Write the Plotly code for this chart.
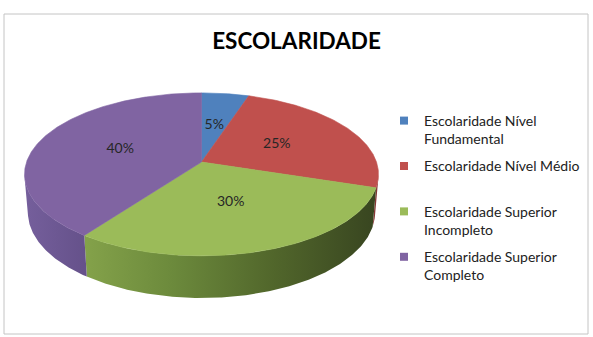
import numpy as np
import plotly.graph_objects as go

# ---- data ----
categories = [
    "Escolaridade Nível Fundamental",
    "Escolaridade Nível Médio",
    "Escolaridade Superior Incompleto",
    "Escolaridade Superior Completo",
]
legend_labels = [
    "Escolaridade Nível<br>Fundamental",
    "Escolaridade Nível Médio<br> ",
    "Escolaridade Superior<br>Incompleto",
    "Escolaridade Superior<br>Completo",
]
values = [5, 25, 30, 40]
pct_labels = ["5%", "25%", "30%", "40%"]
title_text = "ESCOLARIDADE"

# ---- styles ----
top_colors = ["#4F81BD", "#C0504D", "#9BBB59", "#8064A2"]
side_scales = [
    [[0, "#3f6797"], [1, "#2f4d72"]],
    [[0, "#8e3b39"], [1, "#7a3230"]],
    [[0, "#84a24a"], [0.3, "#6c8a3c"], [0.65, "#51662b"], [1, "#384520"]],
    [[0, "#755f9c"], [1, "#65518a"]],
]
W, HT = 593, 337
FONT = "Lato"

# ---- 3D projection of the pie (perspective) ----
CX, CY, F, DIST = 201.5, 162.0, 1027.0, 5.87
PHI = np.arcsin(0.455)
DEPTH = 0.246
LABEL_R = 0.5


def project(theta_deg, r=1.0, y=0.0):
    t = np.radians(theta_deg)
    X = r * np.sin(t)
    Z = r * np.cos(t)
    yc = Z * np.sin(PHI) + y * np.cos(PHI)
    zc = Z * np.cos(PHI) - y * np.sin(PHI) + DIST
    return CX + F * X / zc, CY - F * yc / zc


total = float(sum(values))
cum = np.concatenate([[0], np.cumsum(values)]) / total * 360.0
vis = np.degrees(np.arccos(-1.0 / (DIST * np.cos(PHI))))
vis_lo, vis_hi = vis, 360.0 - vis

fig = go.Figure()

# side walls
for i in range(len(values)):
    a, b = max(cum[i], vis_lo), min(cum[i + 1], vis_hi)
    if b <= a:
        continue
    th = np.linspace(a, b, max(int((b - a) * 2), 4))
    xt, yt = project(th)
    xb, yb = project(th[::-1], y=-DEPTH)
    xs = np.concatenate([xt, xb, xt[:1]])
    ys = np.concatenate([yt, yb, yt[:1]])
    fig.add_trace(go.Scatter(
        x=xs, y=ys, mode="lines", fill="toself",
        fillgradient=dict(type="horizontal", colorscale=side_scales[i]),
        line=dict(width=0), showlegend=False, hoverinfo="skip"))

# top faces
ax, ay = project(0.0, r=0.0)
for i in range(len(values)):
    th = np.linspace(cum[i], cum[i + 1], max(int((cum[i + 1] - cum[i]) * 2), 4))
    px, py = project(th)
    xs = np.concatenate([[ax], px, [ax]])
    ys = np.concatenate([[ay], py, [ay]])
    fig.add_trace(go.Scatter(
        x=xs, y=ys, mode="lines", fill="toself", fillcolor=top_colors[i],
        line=dict(width=0.6, color=top_colors[i]), showlegend=False,
        hoverinfo="text", text=f"{categories[i]}: {pct_labels[i]}"))

# percentage labels
mids = (cum[:-1] + cum[1:]) / 2.0
lx, ly = project(mids, r=LABEL_R)
fig.add_trace(go.Scatter(
    x=lx, y=ly, mode="text", text=pct_labels,
    textfont=dict(family=FONT, size=14, color="#262626"),
    showlegend=False, hoverinfo="skip"))

# legend entries
for i in range(len(values)):
    fig.add_trace(go.Scatter(
        x=[None], y=[None], mode="markers", name=legend_labels[i],
        legendgroup=f"g{i}",
        marker=dict(symbol="square", size=8, color=top_colors[i])))

fig.update_layout(
    width=W, height=HT, autosize=False,
    margin=dict(l=0, r=0, t=0, b=0),
    paper_bgcolor="white", plot_bgcolor="white",
    xaxis=dict(range=[0, W], visible=False, fixedrange=True),
    yaxis=dict(range=[HT, 0], visible=False, fixedrange=True),
    title=dict(text=f"<b>{title_text}</b>", x=0.5, xanchor="center",
               y=1 - 41 / HT, yanchor="middle", yref="container",
               font=dict(family=FONT, size=22.5, color="black")),
    legend=dict(x=384 / W, y=1 - 105 / HT, xanchor="left", yanchor="top",
                valign="top", tracegroupgap=6,
                font=dict(family=FONT, size=14, color="#222222"),
                bgcolor="rgba(0,0,0,0)"),
    shapes=[dict(type="rect", xref="paper", yref="paper",
                 x0=4 / W, x1=588 / W, y0=1 - 334 / HT, y1=1 - 14 / HT,
                 line=dict(color="#c4c4c4", width=1))],
    showlegend=True,
)

fig.write_html("out.html")
